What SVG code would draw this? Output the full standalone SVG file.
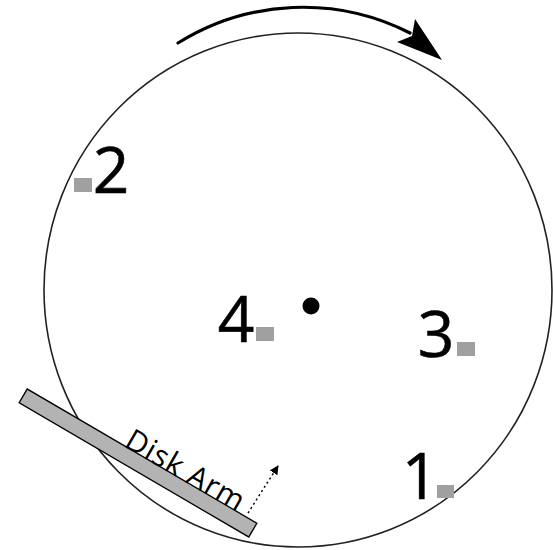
<svg xmlns="http://www.w3.org/2000/svg" width="553" height="550" viewBox="0 0 553 550">
  <style>
    .num { font-family: "Open Sans", "Noto Sans", sans-serif; font-size: 64px; fill: #000; text-anchor: middle; stroke: #000; stroke-width: 0.6; }
    .lbl { font-family: "Open Sans", "Noto Sans", sans-serif; font-size: 30px; fill: #000; }
    .blk { fill: #a0a0a0; }
  </style>
  <defs>
    <marker id="dotHead" viewBox="0 0 10 10" refX="9" refY="5" markerWidth="9" markerHeight="9" orient="auto" markerUnits="userSpaceOnUse">
      <path d="M0,0 L10,5 L0,10 Z" fill="#000"/>
    </marker>
  </defs>
  <rect width="553" height="550" fill="#fff"/>
  <g id="platter">
    <ellipse cx="298" cy="290" rx="254" ry="257" fill="none" stroke="#222" stroke-width="1.6"/>
    <circle cx="311" cy="306" r="8.5" fill="#000"/>
  </g>
  <g id="rotation">
    <path d="M178,43 A236,236 0 0 1 410,33" fill="none" stroke="#000" stroke-width="3.2" stroke-linecap="round"/>
    <path d="M442,60 L415,19 L412,36 L397,42 Z" fill="#000"/>
  </g>
  <g id="block2">
    <rect class="blk" x="74" y="178" width="18" height="14"/>
    <text class="num" x="111" y="193">2</text>
  </g>
  <g id="block4">
    <rect class="blk" x="256" y="327" width="18" height="14"/>
    <text class="num" x="236" y="342">4</text>
  </g>
  <g id="block3">
    <rect class="blk" x="457" y="342" width="18" height="14"/>
    <text class="num" x="436" y="357">3</text>
  </g>
  <g id="block1">
    <rect class="blk" x="437" y="485" width="17" height="13"/>
    <text class="num" x="420" y="499">1</text>
  </g>
  <g id="diskarm">
    <rect x="-133" y="-8" width="266" height="16" transform="translate(138,463) rotate(30.3)" fill="#b3b3b3" stroke="#000" stroke-width="1.3"/>
    <text class="lbl" transform="translate(123,446) rotate(30)" x="0" y="0" textLength="132" lengthAdjust="spacing">Disk Arm</text>
  </g>
  <g id="connectors">
    <line x1="248" y1="513" x2="278" y2="466" stroke="#000" stroke-width="1.5" stroke-dasharray="2,3" marker-end="url(#dotHead)"/>
  </g>
</svg>
